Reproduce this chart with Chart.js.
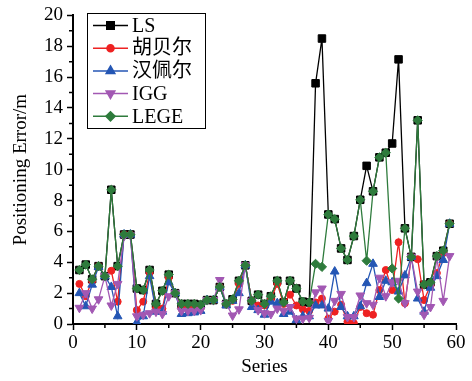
<!DOCTYPE html>
<html lang="zh-cn">
<head>
  <meta charset="UTF-8">
  <title>positioning-error-chart.js</title>
  <style>
    html, body { margin: 0; padding: 0; background: #ffffff; }
    .canvas_box { width: 472px; height: 381px; }
  </style>
  <script src="https://cdn.jsdelivr.net/npm/chart.js@4.4.6/dist/chart.umd.min.js"></script>
</head>
<body>
<div class="canvas_box">
  <canvas id="myChart" width="472" height="381"></canvas>
</div>
<script>
// series number (x axis)
var seriesNo = [ 1, 2, 3, 4, 5, 6, 7, 8, 9, 10, 11, 12, 13, 14, 15, 16, 17, 18, 19, 20,
                 21, 22, 23, 24, 25, 26, 27, 28, 29, 30, 31, 32, 33, 34, 35, 36, 37, 38, 39, 40,
                 41, 42, 43, 44, 45, 46, 47, 48, 49, 50, 51, 52, 53, 54, 55, 56, 57, 58, 59 ];

// positioning error (m) of each method
var lsErr    = [ 3.5, 3.85, 2.9, 3.75, 3.1, 8.7, 3.75, 5.8, 5.8, 2.3, 2.2, 3.5, 1.3, 2.15, 3.2, 2.0, 1.3, 1.3, 1.3, 1.25,
                 1.55, 1.55, 2.4, 1.3, 1.6, 2.8, 3.8, 1.5, 1.9, 1.3, 1.8, 2.8, 1.4, 2.8, 2.3, 1.45, 1.4, 15.6, 18.5, 7.1,
                 6.8, 4.9, 4.15, 5.7, 8.05, 10.25, 8.6, 10.8, 11.1, 11.7, 17.15, 6.2, 4.35, 13.2, 2.55, 2.7, 4.4, 4.75, 6.5 ];
var huberErr = [ 2.6, 1.8, 2.8, 3.75, 3.1, 3.45, 1.45, 5.8, 5.8, 0.9, 1.45, 3.3, 1.0, 1.0, 3.0, 2.0, 1.0, 1.0, 1.0, 1.0,
                 1.55, 1.55, 2.4, 1.3, 1.5, 2.6, 3.8, 1.5, 1.2, 1.2, 1.6, 2.6, 1.3, 1.9, 1.2, 0.95, 0.85, 1.4, 1.65, 0.35,
                 0.8, 1.25, 0.15, 0.05, 1.1, 0.7, 0.6, 2.2, 3.5, 2.2, 5.3, 1.35, 4.35, 4.2, 1.55, 2.5, 3.3, 4.6, 6.5 ];
var hampelErr = [ 2.0, 1.15, 2.55, 3.7, 3.1, 2.4, 0.5, 5.8, 5.8, 0.1, 0.5, 3.1, 0.8, 0.8, 2.7, 2.0, 0.65, 0.7, 0.75, 0.85,
                 1.55, 1.55, 2.4, 1.2, 1.5, 2.0, 3.8, 1.1, 0.9, 0.6, 1.45, 1.35, 0.65, 0.8, 0.25, 0.5, 0.5, 1.2, 1.2, 1.0,
                 3.4, 1.1, 0.5, 0.5, 1.15, 2.65, 3.9, 1.75, 2.8, 2.7, 2.1, 3.15, 4.35, 1.65, 0.8, 2.35, 3.1, 4.15, 6.5 ];
var iggErr   = [ 1.05, 2.0, 1.0, 1.6, 3.1, 1.2, 2.6, 5.7, 5.75, 0.5, 0.6, 0.7, 0.8, 0.65, 1.8, 2.0, 0.85, 0.85, 0.85, 0.9,
                 1.55, 1.55, 2.85, 1.3, 0.55, 0.95, 3.8, 1.5, 0.9, 0.7, 0.65, 1.0, 0.85, 1.1, 0.35, 0.35, 0.4, 2.05, 2.3, 0.2,
                 1.5, 1.95, 0.45, 0.45, 1.85, 1.35, 1.25, 3.0, 1.8, 2.7, 2.8, 1.35, 4.35, 2.1, 0.6, 1.1, 4.3, 1.5, 4.4 ];
var legeErr  = [ 3.5, 3.85, 2.9, 3.75, 3.1, 8.7, 3.75, 5.8, 5.8, 2.3, 2.2, 3.5, 1.3, 2.15, 3.2, 2.0, 1.3, 1.3, 1.3, 1.25,
                 1.55, 1.55, 2.4, 1.3, 1.6, 2.8, 3.8, 1.5, 1.9, 1.3, 1.8, 2.8, 1.4, 2.8, 2.3, 1.45, 1.4, 3.9, 3.7, 7.1,
                 6.8, 4.9, 4.15, 5.7, 8.05, 4.1, 8.6, 10.8, 11.1, 3.6, 1.65, 6.2, 4.35, 13.2, 2.55, 2.7, 4.4, 4.75, 6.5 ];

var xTicks = [0, 10, 20, 30, 40, 50, 60];
var yTicks = [0, 2, 4, 6, 8, 10, 12, 14, 16, 18, 20];

var serif = "'Liberation Serif', 'Noto Sans CJK SC', serif";

function pts(values) {
  return values.map(function(v, i) { return { x: seriesNo[i], y: v }; });
}

function makeSet(label, values, color, style, radius, rotation, order) {
  return {
    label: label,
    data: pts(values),
    borderColor: color,
    backgroundColor: color,
    borderWidth: 1.3,
    pointStyle: style,
    pointRadius: radius,
    pointRotation: rotation,
    pointBackgroundColor: color,
    pointBorderColor: color,
    pointBorderWidth: 1,
    tension: 0,
    order: order
  };
}

// short minor ticks between the labelled ones
var minorTicks = {
  id: 'minorTicks',
  afterDraw: function(chart) {
    var ctx = chart.ctx, xs = chart.scales.x, ys = chart.scales.y;
    var left = chart.chartArea.left, bottom = chart.chartArea.bottom;
    ctx.save();
    ctx.strokeStyle = '#000';
    ctx.lineWidth = 1.5;
    ctx.beginPath();
    for (var i = 0; i < yTicks.length - 1; i++) {
      var py = ys.getPixelForValue((yTicks[i] + yTicks[i + 1]) / 2);
      ctx.moveTo(left, py); ctx.lineTo(left - 4, py);
    }
    for (var j = 0; j < xTicks.length - 1; j++) {
      var px = xs.getPixelForValue((xTicks[j] + xTicks[j + 1]) / 2);
      ctx.moveTo(px, bottom); ctx.lineTo(px, bottom + 4);
    }
    ctx.stroke();
    ctx.restore();
  }
};

// legend box inside the plot, line + marker samples
var boxLegend = {
  id: 'boxLegend',
  afterDraw: function(chart) {
    var ctx = chart.ctx;
    var bx = 87, by = 13, bw = 118, bh = 115, row = 22.7;
    ctx.save();
    ctx.fillStyle = '#fff';
    ctx.fillRect(bx, by, bw, bh);
    ctx.strokeStyle = '#000';
    ctx.lineWidth = 1;
    ctx.strokeRect(bx + 0.5, by + 0.5, bw, bh);
    chart.data.datasets.forEach(function(ds, i) {
      var y = by + 12.5 + i * row;
      ctx.strokeStyle = ds.borderColor;
      ctx.lineWidth = 1.5;
      ctx.beginPath();
      ctx.moveTo(93, y); ctx.lineTo(128, y);
      ctx.stroke();
      ctx.fillStyle = ds.backgroundColor;
      Chart.helpers.drawPoint(ctx, {
        pointStyle: ds.pointStyle, radius: ds.pointRadius, rotation: ds.pointRotation, borderWidth: 1
      }, 110.5, y);
      ctx.fillStyle = '#000';
      ctx.font = "20px " + serif;
      ctx.textBaseline = 'middle';
      ctx.textAlign = 'left';
      ctx.fillText(ds.label, 132, y + 1);
    });
    ctx.restore();
  }
};

var ctx = document.getElementById("myChart");
var myChart = new Chart(ctx, {
  type: 'line',
  plugins: [minorTicks, boxLegend],
  data: {
    datasets: [
      makeSet('LS',     lsErr,     '#000000', 'rect',     5.3, 0,   4),
      makeSet('胡贝尔', huberErr,  '#ee2222', 'circle',   3.5, 0,   3),
      makeSet('汉佩尔', hampelErr, '#2456b4', 'triangle', 5,   0,   2),
      makeSet('IGG',    iggErr,    '#a258b3', 'triangle', 5,   180, 1),
      makeSet('LEGE',   legeErr,   '#2e7b3c', 'rectRot',  4.6, 0,   0)
    ]
  },
  options: {
    responsive: false,
    animation: false,
    layout: {
      padding: { left: 0, right: 16, top: 13, bottom: 0 }
    },
    plugins: {
      legend: { display: false },
      tooltip: { enabled: false },
      title: { display: false }
    },
    scales: {
      x: {
        type: 'linear',
        min: 0,
        max: 60,
        afterBuildTicks: function(scale) {
          scale.ticks = xTicks.map(function(v) { return { value: v }; });
        },
        afterFit: function(scale) { scale.height = 57; },
        ticks: {
          color: '#000',
          padding: 2,
          maxRotation: 0,
          font: { family: serif, size: 19 }
        },
        grid: {
          drawOnChartArea: false,
          drawTicks: true,
          tickLength: 6,
          tickColor: '#000',
          tickWidth: 1.5
        },
        border: { display: true, color: '#000', width: 2 },
        title: {
          display: true,
          text: 'Series',
          color: '#000',
          padding: { top: 0, bottom: 3 },
          font: { family: serif, size: 19 }
        }
      },
      y: {
        min: 0,
        max: 20,
        afterBuildTicks: function(scale) {
          scale.ticks = yTicks.map(function(v) { return { value: v }; });
        },
        afterFit: function(scale) { scale.width = 73; },
        ticks: {
          color: '#000',
          padding: 4,
          font: { family: serif, size: 19 }
        },
        grid: {
          drawOnChartArea: false,
          drawTicks: true,
          tickLength: 6,
          tickColor: '#000',
          tickWidth: 1.5
        },
        border: { display: true, color: '#000', width: 2 },
        title: {
          display: true,
          text: 'Positioning Error/m',
          color: '#000',
          padding: { top: 10, bottom: 0 },
          font: { family: serif, size: 19 }
        }
      }
    }
  }
});
</script>
</body>
</html>
